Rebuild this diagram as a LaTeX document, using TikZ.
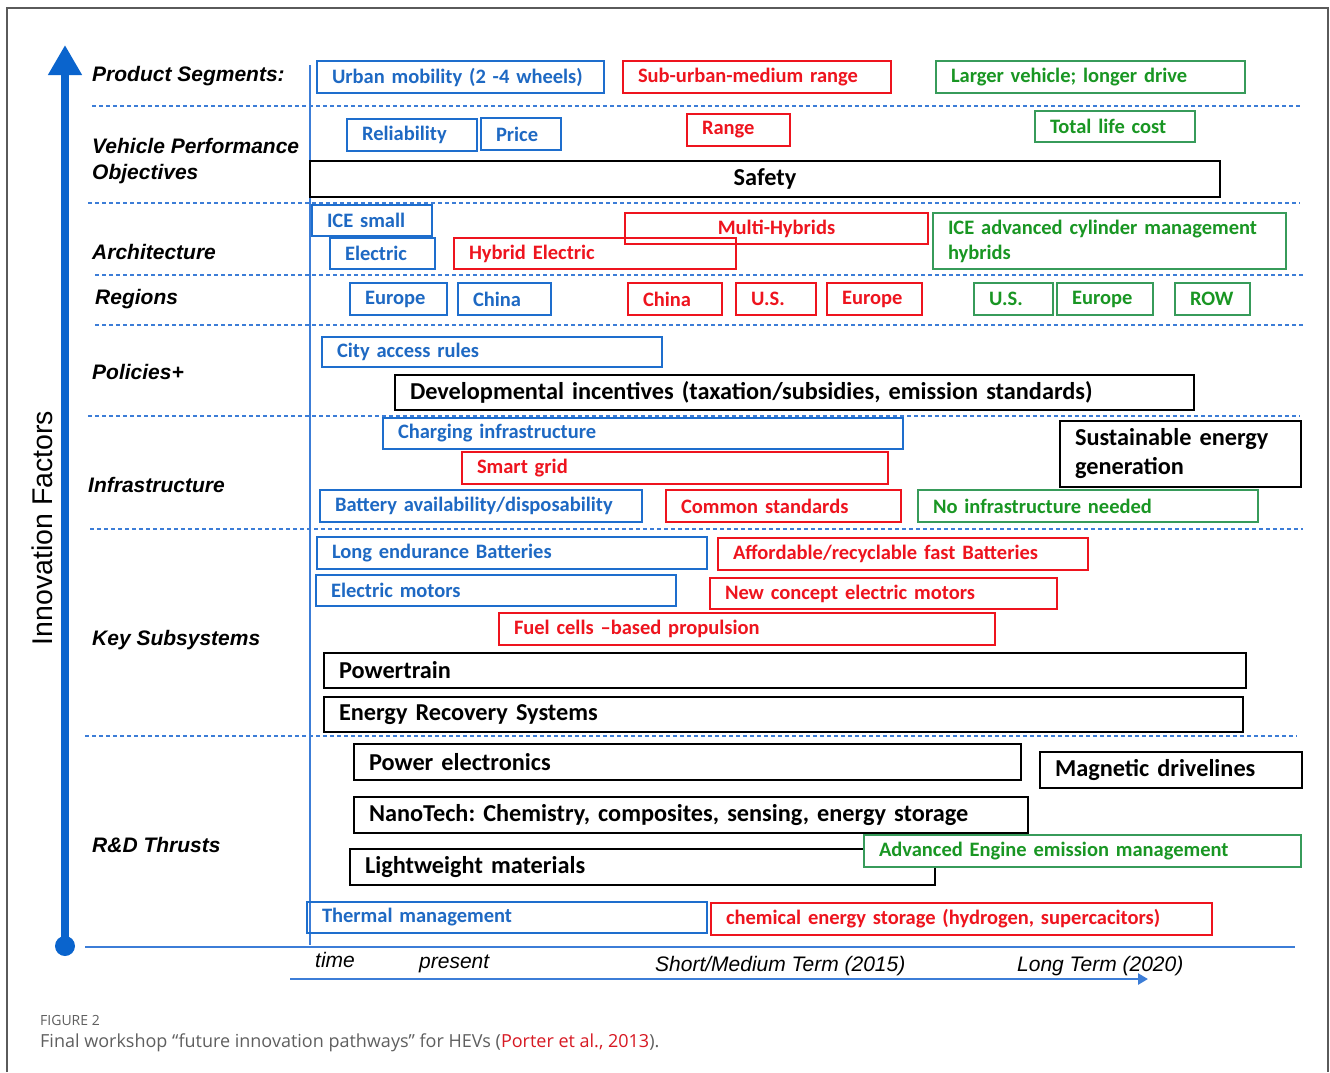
\documentclass[tikz,border=0pt]{standalone}
\usepackage{fontspec}
\usetikzlibrary{arrows.meta}
\newfontfamily\calib{Carlito}
\newfontfamily\arialf{Liberation Sans}
\newfontfamily\capfont{Open Sans}
\definecolor{bxblue}{RGB}{30,110,205}
\definecolor{txblue}{RGB}{30,105,195}
\definecolor{bxred}{RGB}{238,20,30}
\definecolor{bxgreen}{RGB}{55,155,90}
\definecolor{txgreen}{RGB}{25,150,35}
\definecolor{axblue}{RGB}{10,100,205}
\definecolor{sepblue}{RGB}{60,125,215}
\definecolor{capgrey}{RGB}{95,95,95}
\definecolor{citered}{RGB}{215,25,35}
\definecolor{framegrey}{RGB}{90,90,90}
\frenchspacing
\newcommand\Bx[7]{%
  \pgfmathsetmacro\bxw{#5-#3}%
  \pgfmathsetmacro\bxh{#6-#4}%
  \pgfmathsetmacro\bxt{#5-#3-30}%
  \node[bxbase,#1,minimum width=\bxw pt,minimum height=\bxh pt,text width=\bxt pt] (#2) at (#3,#4) {#7};}
\tikzset{
  bxbase/.style={anchor=north west,inner xsep=15pt,inner ysep=0pt,outer sep=0pt,align=left},
  bl/.style={draw=bxblue,text=txblue,line width=2.3pt,font=\calib\bfseries\fontsize{20.5}{25}\selectfont},
  rd/.style={draw=bxred,text=bxred,line width=2.3pt,font=\calib\bfseries\fontsize{20.5}{25}\selectfont},
  gr/.style={draw=bxgreen,text=txgreen,line width=2.3pt,font=\calib\bfseries\fontsize{20.5}{25}\selectfont},
  bk/.style={draw=black,text=black,line width=2.8pt,font=\calib\bfseries\fontsize{24.3}{29}\selectfont},
  lab/.style={anchor=west,inner sep=0pt,align=left,font=\arialf\bfseries\itshape\fontsize{21}{26}\selectfont},
  tlab/.style={anchor=west,inner sep=0pt,font=\arialf\itshape\fontsize{21}{25}\selectfont},
  sepline/.style={draw=sepblue,line width=2pt,dash pattern=on 4pt off 3pt}
}
\begin{document}
\begin{tikzpicture}[x=1pt,y=-1pt]
\useasboundingbox (0,0) rectangle (1330,1072);
\fill[white] (0,0) rectangle (1330,1072);
% frame
\coordinate (fbl) at (7,1072); \coordinate (ftl) at (7,8);
\coordinate (ftr) at (1328,8); \coordinate (fbr) at (1328,1072);
\draw[framegrey,line width=1.2pt] (fbl) -- (ftl) -- (ftr) -- (fbr);
% axis arrow
\coordinate (axb) at (65,946); \coordinate (axt) at (65,45);
\draw[axblue,line width=8pt,-{Triangle[width=32pt,length=30pt]}] (axb) -- (axt);
\fill[axblue] (axb) circle (10);
\node[rotate=90,font=\arialf\fontsize{28.5}{30}\selectfont,inner sep=0pt] (innov) at (42,528) {Innovation Factors};
% thin vertical line and time axes
\coordinate (vt) at (310,65); \coordinate (vb) at (310,945);
\draw[sepblue,line width=2pt] (vt) -- (vb);
\coordinate (tl1) at (85,947); \coordinate (tl2) at (1295,947);
\draw[sepblue,line width=2.2pt] (tl1) -- (tl2);
\coordinate (ta1) at (290,979); \coordinate (ta2) at (1148,979);
\draw[sepblue,line width=2.5pt,-{Triangle[width=11pt,length=10pt]}] (ta1) -- (ta2);
% separators
\coordinate (s1a) at (92,106);  \coordinate (s1b) at (1302,106);
\coordinate (s2a) at (88,203);  \coordinate (s2b) at (1300,203);
\coordinate (s3a) at (95,275);  \coordinate (s3b) at (1303,275);
\coordinate (s4a) at (95,325);  \coordinate (s4b) at (1305,325);
\coordinate (s5a) at (88,416);  \coordinate (s5b) at (1300,416);
\coordinate (s6a) at (90,529);  \coordinate (s6b) at (1303,529);
\coordinate (s7a) at (85,736);  \coordinate (s7b) at (1297,736);
\foreach \s in {1,...,7} {\draw[sepline] (s\s a) -- (s\s b);}
% left labels
\node[lab] (lprod) at (92,76) {Product Segments:};
\node[lab] (lveh) at (92,161) {Vehicle Performance\\Objectives};
\node[lab] (larch) at (92,252) {Architecture};
\node[lab] (lreg) at (95,299) {Regions};
\node[lab] (lpol) at (92,372) {Policies+};
\node[lab] (linf) at (88,485) {Infrastructure};
\node[lab] (lkey) at (92,640) {Key Subsystems};
\node[lab] (lrd) at (92,845) {R\&D Thrusts};
% product segments
\Bx{bl}{urban}{317}{61}{604}{93}{Urban mobility (2 -4 wheels)}
\Bx{rd}{suburb}{623}{61}{891}{93}{Sub-urban-medium range}
\Bx{gr}{larger}{936}{61}{1245}{93}{Larger vehicle; longer drive}
% performance
\Bx{bl}{reliab}{347}{119}{477}{151}{Reliability}
\Bx{bl}{price}{481}{118}{561}{150}{Price}
\Bx{rd}{range}{687}{114}{790}{146}{Range}
\Bx{gr}{tlc}{1035}{111}{1195}{142}{Total life cost}
\Bx{bk,align=center}{safety}{310}{161}{1220}{197}{Safety}
% architecture
\Bx{bl}{icesmall}{312}{205}{432}{236}{ICE small}
\Bx{bl}{electric}{330}{238}{435}{269}{Electric}
\Bx{rd,align=center}{multi}{625}{213}{928}{244}{Multi-Hybrids}
\Bx{rd}{hybrid}{454}{238}{736}{269}{Hybrid Electric}
\Bx{gr}{iceadv}{933}{213}{1286}{269}{ICE advanced cylinder management\\hybrids}
% regions
\Bx{bl}{eu1}{350}{283}{447}{315}{Europe}
\Bx{bl}{cn1}{458}{283}{551}{315}{China}
\Bx{rd}{cn2}{628}{283}{722}{315}{China}
\Bx{rd}{us2}{736}{283}{816}{315}{U.S.}
\Bx{rd}{eu2}{827}{283}{922}{315}{Europe}
\Bx{gr}{us3}{974}{283}{1053}{315}{U.S.}
\Bx{gr}{eu3}{1057}{283}{1153}{315}{Europe}
\Bx{gr}{row}{1175}{283}{1250}{315}{ROW}
% policies
\Bx{bl}{city}{322}{337}{662}{367}{City access rules}
\Bx{bk}{devel}{395}{375}{1194}{410}{Developmental incentives (taxation/subsidies, emission standards)}
% infrastructure
\Bx{bl}{charg}{383}{418}{903}{449}{Charging infrastructure}
\Bx{rd}{smart}{462}{452}{888}{484}{Smart grid}
\Bx{bl}{battav}{320}{490}{642}{522}{Battery availability/disposability}
\Bx{rd}{common}{666}{490}{901}{522}{Common standards}
\Bx{gr}{noinf}{918}{490}{1258}{522}{No infrastructure needed}
\Bx{bk}{sust}{1060}{421}{1301}{487}{Sustainable energy\\generation}
% key subsystems
\Bx{bl}{longend}{317}{537}{707}{569}{Long endurance Batteries}
\Bx{rd}{afford}{718}{538}{1088}{570}{Affordable/recyclable fast Batteries}
\Bx{bl}{emot}{316}{575}{676}{606}{Electric motors}
\Bx{rd}{newmot}{710}{578}{1057}{609}{New concept electric motors}
\Bx{rd}{fuel}{499}{613}{995}{645}{Fuel cells –based propulsion}
\Bx{bk}{power}{324}{653}{1246}{688}{Powertrain}
\Bx{bk}{energy}{324}{697}{1243}{732}{Energy Recovery Systems}
% R&D
\Bx{bk}{pelec}{354}{744}{1021}{780}{Power electronics}
\Bx{bk}{magn}{1040}{752}{1302}{788}{Magnetic drivelines}
\Bx{bk}{nano}{354}{797}{1028}{833}{NanoTech: Chemistry, composites, sensing, energy storage}
\Bx{bk}{light}{350}{849}{935}{885}{Lightweight materials}
\Bx{gr,fill=white}{advemis}{864}{835}{1301}{867}{Advanced Engine emission management}
\Bx{bl}{thermal}{307}{902}{707}{933}{Thermal management}
\Bx{rd}{chem}{711}{903}{1212}{935}{chemical energy storage (hydrogen, supercacitors)}
% time labels
\node[tlab] (ttime) at (315,960) {time};
\node[tlab] (tpres) at (419,964) {present};
\node[tlab] (tshort) at (655,966) {Short/Medium Term (2015)};
\node[tlab] (tlong) at (1017,966) {Long Term (2020)};
% caption
\node[anchor=west,inner sep=0pt,text=capgrey,font=\capfont\fontsize{14}{16}\selectfont] (fig) at (40,1020) {FIGURE 2};
\node[anchor=west,inner sep=0pt,text=capgrey,font=\capfont\fontsize{18}{21}\selectfont] (cap) at (40,1043) {Final workshop “future innovation pathways” for HEVs (\textcolor{citered}{Porter et al., 2013}).};
\end{tikzpicture}
\end{document}
